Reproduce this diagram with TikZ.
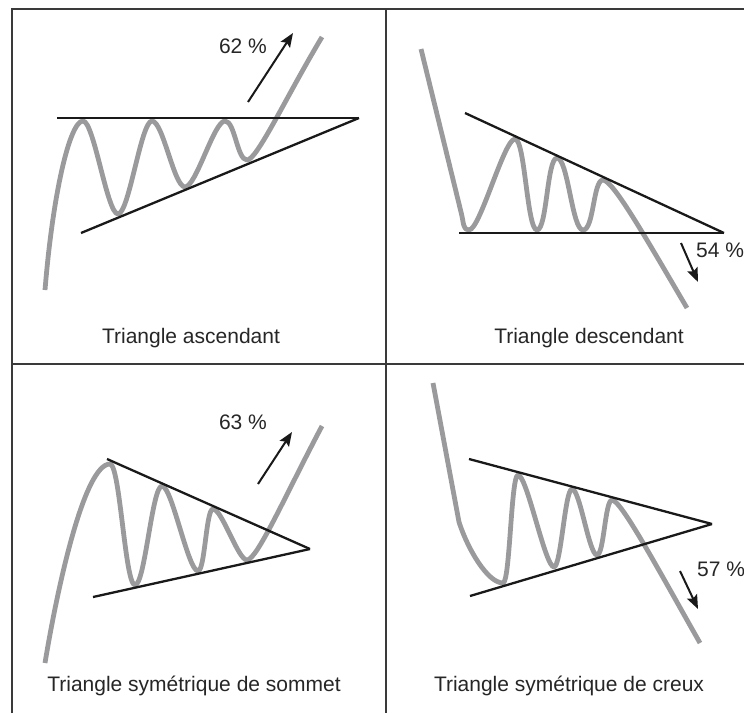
\documentclass[tikz,border=0pt]{standalone}
\usepackage{fontspec}
\setmainfont{Liberation Sans}
\usetikzlibrary{arrows.meta}
\definecolor{curvegray}{HTML}{9A9A9C}
\definecolor{framegray}{HTML}{3A3A3A}
\begin{document}
\begin{tikzpicture}[x=1pt,y=-1pt,
  frame/.style={draw=framegray,line width=1.3pt},
  price/.style={draw=curvegray,line width=4.8pt,line cap=butt,line join=round},
  trend/.style={draw=black!90,line width=2.3pt,line cap=butt},
  move/.style={draw=black!90,line width=2pt,-{Stealth[length=14pt,width=11pt,inset=2.5pt]}},
  lbl/.style={inner sep=0pt,anchor=base,font=\fontsize{21}{25}\selectfont,text=black!85}]
\useasboundingbox (0,0) rectangle (744,713);
% frame
\coordinate (fBL) at (12,713);
\coordinate (fTL) at (12,9);
\coordinate (fTR) at (744,9);
\coordinate (fML) at (12,364);
\coordinate (fMR) at (744,364);
\coordinate (fMT) at (386,9);
\coordinate (fMB) at (386,713);
\draw[frame] (fBL) -- (fTL) -- (fTR);
\draw[frame] (fML) -- (fMR);
\draw[frame] (fMT) -- (fMB);

% ---------- panel 1: ascending triangle
\draw[price] (45,290) .. controls (53,192) and (70,121) .. (83,121)
 .. controls (94,121) and (107,214) .. (118,214)
 .. controls (129,214) and (141,121) .. (152,121)
 .. controls (163,121) and (174,187) .. (185,187)
 .. controls (196,187) and (214,121) .. (225,121)
 .. controls (235,121) and (237,160) .. (247,160)
 .. controls (257,160) and (286,97) .. (322,37);
\coordinate (a1) at (57,118);
\coordinate (a2) at (359,118);
\coordinate (a3) at (81,233);
\draw[trend] (a1) -- (a2);
\draw[trend] (a3) -- (a2);
\coordinate (ar1s) at (248,102);
\coordinate (ar1e) at (293,33);
\draw[move] (ar1s) -- (ar1e);
\node[lbl] (p1) at (243,53) {62 \%};
\node[lbl] (t1) at (191,343) {Triangle ascendant};

% ---------- panel 2: descending triangle
\draw[price] (421,49) -- (461,212) .. controls (464,224) and (463,230) .. (469,230)
 .. controls (480,230) and (504,139) .. (515,139)
 .. controls (525,139) and (527,230) .. (537,230)
 .. controls (547,230) and (547,158) .. (557,158)
 .. controls (568,158) and (572,230) .. (583,230)
 .. controls (594,230) and (593,180) .. (603,180)
 .. controls (613,180) and (647,240) .. (687,308);
\coordinate (b1) at (459,233);
\coordinate (b2) at (724,233);
\coordinate (b3) at (465,113);
\draw[trend] (b1) -- (b2);
\draw[trend] (b3) -- (b2);
\coordinate (ar2s) at (681,243);
\coordinate (ar2e) at (698,282);
\draw[move] (ar2s) -- (ar2e);
\node[lbl,anchor=base west] (p2) at (696,257) {54 \%};
\node[lbl] (t2) at (589,343) {Triangle descendant};

% ---------- panel 3: symmetric triangle (top)
\draw[price] (45,663) .. controls (57,590) and (84,464) .. (110,464)
 .. controls (120,464) and (125,585) .. (135,585)
 .. controls (145,585) and (152,486) .. (162,486)
 .. controls (172,486) and (188,571) .. (198,571)
 .. controls (205,571) and (206,509) .. (213,509)
 .. controls (222,509) and (238,560) .. (247,560)
 .. controls (257,560) and (286,494) .. (322,426);
\coordinate (c1) at (107,459);
\coordinate (c2) at (310,549);
\coordinate (c3) at (93,597);
\draw[trend] (c1) -- (c2);
\draw[trend] (c3) -- (c2);
\coordinate (ar3s) at (258,484);
\coordinate (ar3e) at (292,432);
\draw[move] (ar3s) -- (ar3e);
\node[lbl] (p3) at (243,429) {63 \%};
\node[lbl] (t3) at (194,691) {Triangle symétrique de sommet};

% ---------- panel 4: symmetric triangle (bottom)
\draw[price] (433,383) -- (459,522) .. controls (468,550) and (488,583) .. (503,583)
 .. controls (510,583) and (511,475) .. (518,475)
 .. controls (527,475) and (545,567) .. (554,567)
 .. controls (561,567) and (565,489) .. (572,489)
 .. controls (580,489) and (589,555) .. (597,555)
 .. controls (604,555) and (605,500) .. (612,500)
 .. controls (621,500) and (658,569) .. (700,643);
\coordinate (d1) at (469,459);
\coordinate (d2) at (712,524);
\coordinate (d3) at (470,596);
\draw[trend] (d1) -- (d2);
\draw[trend] (d3) -- (d2);
\coordinate (ar4s) at (680,571);
\coordinate (ar4e) at (698,609);
\draw[move] (ar4s) -- (ar4e);
\node[lbl,anchor=base west] (p4) at (697,576) {57 \%};
\node[lbl] (t4) at (569,691) {Triangle symétrique de creux};
\end{tikzpicture}
\end{document}
